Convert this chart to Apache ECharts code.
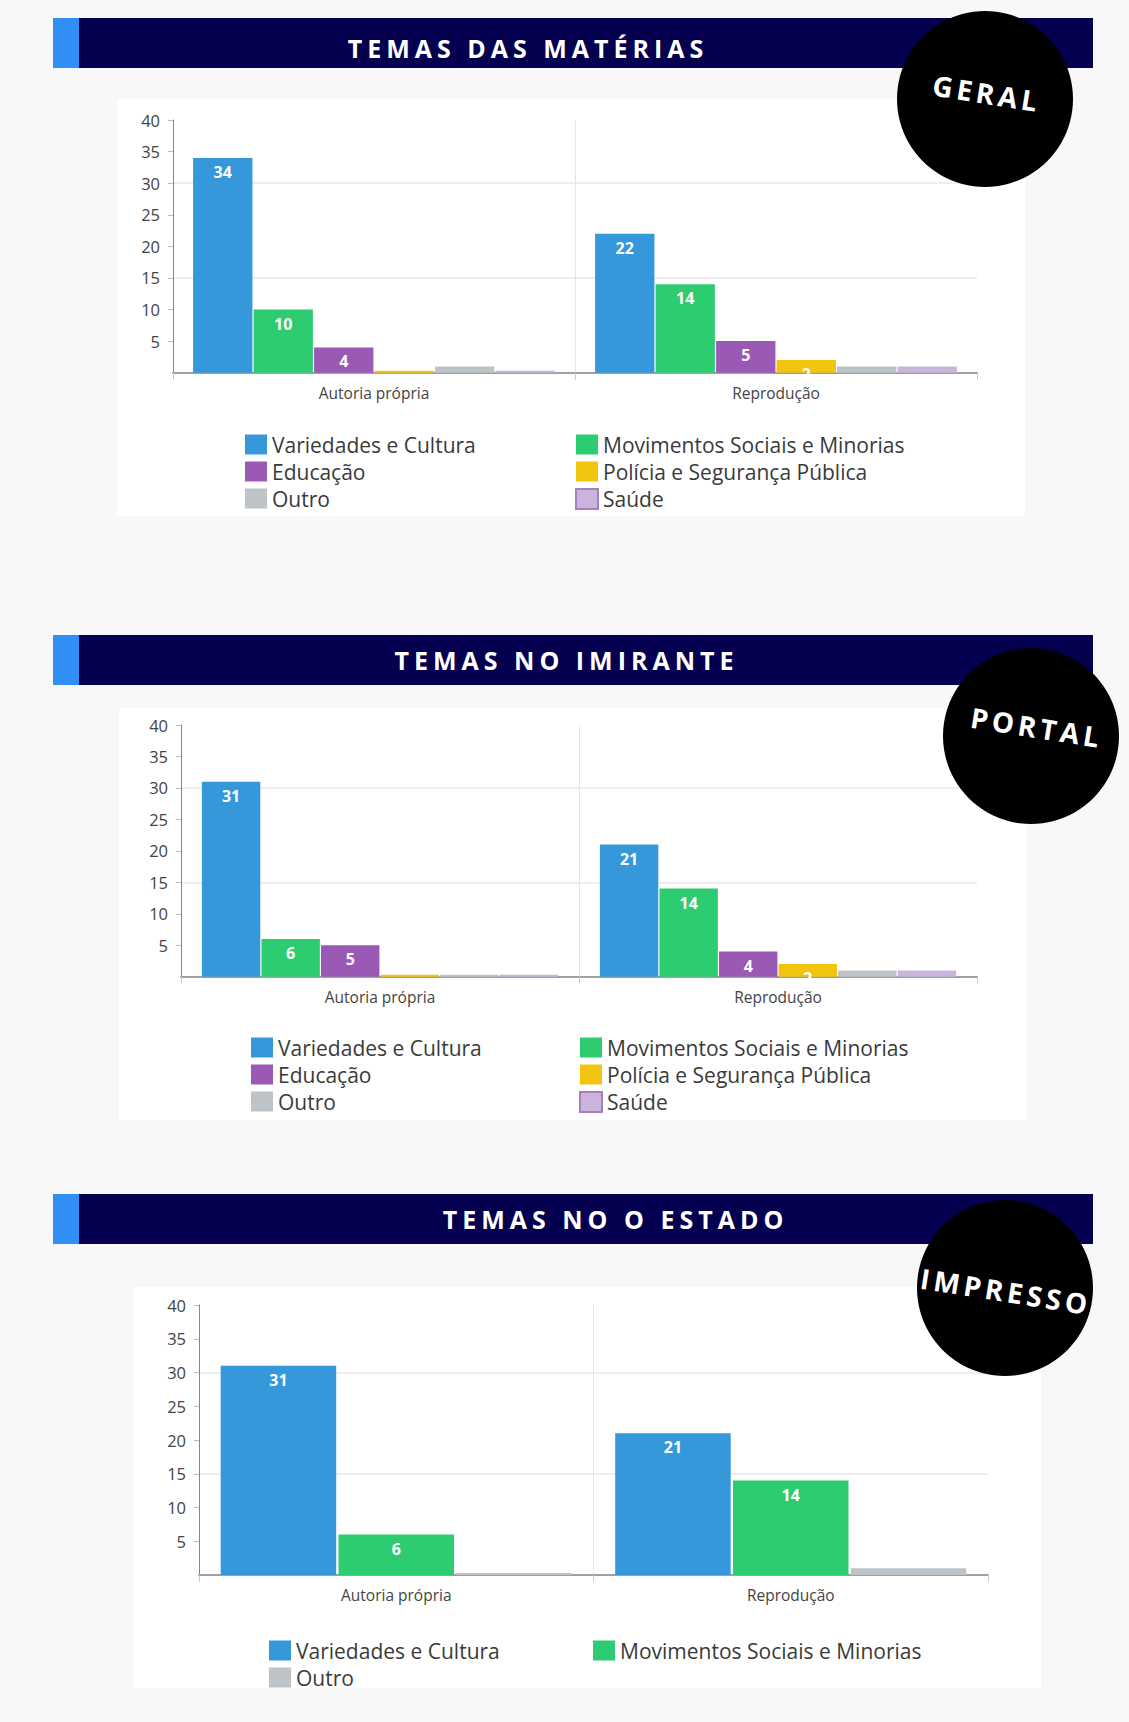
<!DOCTYPE html>
<html>
<head>
<meta charset="utf-8">
<script src="https://cdn.jsdelivr.net/npm/echarts@6/dist/echarts.min.js"></script>
<style>
html,body{margin:0;padding:0;background:#f8f8f8;}
#c{width:1129px;height:1722px;}
</style>
</head>
<body>
<div id="c"></div>
<script>
// ---------- DATA ----------
const categories = ['Autoria própria', 'Reprodução'];
const themes = ['Variedades e Cultura', 'Movimentos Sociais e Minorias', 'Educação', 'Polícia e Segurança Pública', 'Outro', 'Saúde'];
const panelTitles = ['TEMAS DAS MATÉRIAS', 'TEMAS NO IMIRANTE', 'TEMAS NO O ESTADO'];
const badgeTexts = ['GERAL', 'PORTAL', 'IMPRESSO'];
const yTickStep = 5;
const yMax = 40;

// Geral
const geralVariedades = [34, 22];
const geralMovimentos = [10, 14];
const geralEducacao = [4, 5];
const geralPolicia = [0, 2];
const geralOutro = [1, 1];
const geralSaude = [0, 1];

// Portal (Imirante)
const portalVariedades = [31, 21];
const portalMovimentos = [6, 14];
const portalEducacao = [5, 4];
const portalPolicia = [0, 2];
const portalOutro = [0, 1];
const portalSaude = [0, 1];

// Impresso (O Estado)
const impressoVariedades = [31, 21];
const impressoMovimentos = [6, 14];
const impressoOutro = [0, 1];

const panelSeries = [
  [[0, geralVariedades], [1, geralMovimentos], [2, geralEducacao], [3, geralPolicia], [4, geralOutro], [5, geralSaude]],
  [[0, portalVariedades], [1, portalMovimentos], [2, portalEducacao], [3, portalPolicia], [4, portalOutro], [5, portalSaude]],
  [[0, impressoVariedades], [1, impressoMovimentos], [4, impressoOutro]]
];

// ---------- STYLE / LAYOUT ----------
const themeColors = ['#3498db', '#2ecc71', '#9b59b6', '#f1c40f', '#bdc3c7', '#cbb4dc'];
const FONT = '"Open Sans", "Noto Sans", sans-serif';
const layout = [
  {banner: 18, title: [528, 47.5], badge: {cx: 985, cy: 99, tx: 987, ty: 93}, box: [117, 99, 908, 417],
   grid: {left: 173, top: 120, width: 804, height: 252.7}, gap: '10%', legendLeft: [245, 575], legendTop: 434},
  {banner: 635, title: [566.5, 660], badge: {cx: 1031, cy: 736, tx: 1037, ty: 727}, box: [119, 708, 908, 412],
   grid: {left: 181, top: 725, width: 796, height: 251.7}, gap: '10.5%', legendLeft: [251, 579], legendTop: 1037},
  {banner: 1194, title: [615.5, 1219], badge: {cx: 1005, cy: 1288, tx: 1006, ty: 1291}, box: [134, 1287, 907, 401],
   grid: {left: 199, top: 1305, width: 789, height: 270}, gap: '11%', legendLeft: [269, 593], legendTop: 1640}
];

const grids = [], xAxes = [], yAxes = [], series = [], legends = [], titles = [], graphics = [];

layout.forEach((L, p) => {
  grids.push(Object.assign({containLabel: false}, L.grid));
  xAxes.push({
    type: 'category', gridIndex: p, data: categories,
    axisLine: {lineStyle: {color: '#a0a0a0', width: 2}},
    axisTick: {show: true, length: 7, alignWithLabel: false, lineStyle: {color: '#c8c8c8'}},
    axisLabel: {fontSize: 15.5, color: '#444', fontFamily: FONT, margin: 12},
    splitLine: {show: true, showMaxLine: false, lineStyle: {color: '#e6e6e6', width: 1}}
  });
  yAxes.push({
    type: 'value', gridIndex: p, min: 0, max: yMax, interval: yTickStep,
    axisLine: {show: true, lineStyle: {color: '#888', width: 1}},
    axisTick: {show: true, length: 5, lineStyle: {color: '#bbb'}},
    axisLabel: {fontSize: 16.5, color: '#444', fontFamily: FONT, margin: 13, showMinLabel: false},
    splitLine: {show: true, lineStyle: {color: ['#e8e8e8', 'rgba(0,0,0,0)', 'rgba(0,0,0,0)'], width: 1.5}}
  });
  panelSeries[p].forEach(([ti, vals]) => {
    series.push({
      type: 'bar', name: themes[ti], xAxisIndex: p, yAxisIndex: p, data: vals,
      barGap: '2%', barCategoryGap: L.gap, barMinHeight: 2,
      itemStyle: {color: themeColors[ti]},
      label: {show: true, position: 'insideTop', distance: 6, color: '#fff', fontWeight: 'bold',
              fontSize: 16, fontFamily: FONT, formatter: q => (q.value >= 2 ? String(q.value) : '')},
      emphasis: {disabled: true}
    });
  });
  const idx = panelSeries[p].map(s => s[0]);
  const mk = ti => ti === 5 ? {name: themes[ti], itemStyle: {borderColor: '#a47fc2', borderWidth: 2}} : {name: themes[ti]};
  const col1 = idx.filter((_, i) => i % 2 === 0).map(mk);
  const col2 = idx.filter((_, i) => i % 2 === 1).map(mk);
  [col1, col2].forEach((col, c) => {
    legends.push({
      data: col, orient: 'vertical', left: L.legendLeft[c], top: L.legendTop, padding: 0,
      itemWidth: 22, itemHeight: 20, itemGap: 6, icon: 'rect', selectedMode: false,
      textStyle: {fontSize: 21, color: '#3a3a3a', fontFamily: FONT}
    });
  });
  titles.push({
    text: panelTitles[p], left: L.title[0], top: L.title[1], textAlign: 'center', textVerticalAlign: 'middle',
    padding: 0, z: 20,
    textStyle: {color: '#ffffff', fontSize: 25, fontWeight: 'bold', fontFamily: FONT}
  });
  // white chart box
  graphics.push({type: 'rect', z: -10, silent: true,
    shape: {x: L.box[0], y: L.box[1], width: L.box[2], height: L.box[3]}, style: {fill: '#ffffff'}});
  // banner
  graphics.push({type: 'rect', z: -5, silent: true,
    shape: {x: 53, y: L.banner, width: 26, height: 50}, style: {fill: '#2f8ff5'}});
  graphics.push({type: 'rect', z: -5, silent: true,
    shape: {x: 79, y: L.banner, width: 1014, height: 50}, style: {fill: '#04004f'}});
  // badge circle
  graphics.push({type: 'circle', z: 100, silent: true,
    shape: {cx: L.badge.cx, cy: L.badge.cy, r: 88}, style: {fill: '#000000'}});
  graphics.push({type: 'text', z: 101, silent: true, x: L.badge.tx, y: L.badge.ty, rotation: -9 * Math.PI / 180,
    style: {text: badgeTexts[p], fill: '#ffffff', font: 'bold 28px ' + FONT, align: 'center', verticalAlign: 'middle'}});
});

const chart = echarts.init(document.getElementById('c'), null, {renderer: 'svg', width: 1129, height: 1722});
chart.setOption({
  backgroundColor: '#f8f8f8',
  animation: false,
  title: titles,
  grid: grids,
  xAxis: xAxes,
  yAxis: yAxes,
  legend: legends,
  series: series,
  graphic: {elements: graphics},
  tooltip: {show: false}
});

const spacing = {};
panelTitles.forEach(t => spacing[t] = 5);
badgeTexts.forEach(t => spacing[t] = 4);
function applySpacing() {
  document.querySelectorAll('#c text').forEach(t => {
    const s = spacing[t.textContent];
    if (s) t.style.letterSpacing = s + 'px';
  });
}
chart.on('finished', applySpacing);
applySpacing();
setTimeout(applySpacing, 50);
setTimeout(applySpacing, 300);
</script>
</body>
</html>
